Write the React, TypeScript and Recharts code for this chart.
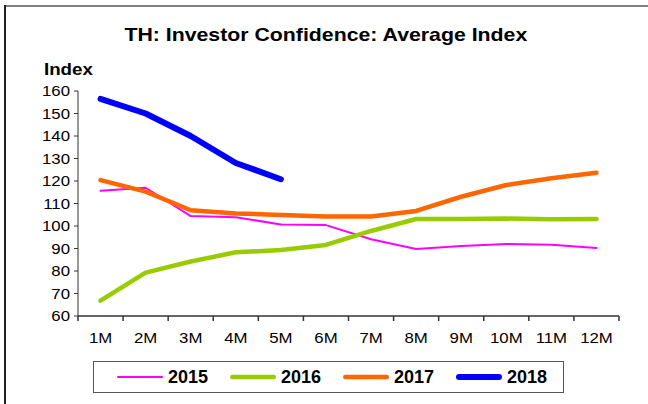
import React from "react";
import { LineChart, Line, XAxis, YAxis } from "recharts";

const months = ["1M", "2M", "3M", "4M", "5M", "6M", "7M", "8M", "9M", "10M", "11M", "12M"];
const y2015 = [115.7, 117, 104.4, 103.9, 100.7, 100.4, 94.1, 89.8, 91.1, 92, 91.7, 90.2];
const y2016 = [66.8, 79.3, 84.2, 88.3, 89.3, 91.6, 97.8, 103.1, 103.1, 103.3, 103, 103.1];
const y2017 = [120.4, 115.3, 107, 105.6, 104.9, 104.2, 104.2, 106.7, 113, 118.2, 121.2, 123.7];
const y2018 = [156.5, 150, 140, 128, 120.8];
const yTicks = [60, 70, 80, 90, 100, 110, 120, 130, 140, 150, 160];

const series = [
  { key: "2015", color: "#ff00ff", width: 2 },
  { key: "2016", color: "#99cc00", width: 4.5 },
  { key: "2017", color: "#ff6600", width: 4.5 },
  { key: "2018", color: "#0000ff", width: 6 },
];

const data = months.map((m, i) => ({
  m: i + 1,
  label: m,
  "2015": y2015[i],
  "2016": y2016[i],
  "2017": y2017[i],
  "2018": i < y2018.length ? y2018[i] : null,
}));

// tick marks sit between the months, like Excel's category axis
const boundaryTicks = [0, ...months.map((_, i) => i + 1)].map((v) => v + 0.5);

const FONT = "'Liberation Sans', Arial, sans-serif";
const AXIS = "#333";

const StretchText = ({ x, y, dy, anchor, children }: any) => (
  <g transform={`translate(${x},${y}) scale(1.12,1)`}>
    <text x={0} y={0} dy={dy} textAnchor={anchor} fill="#000" fontSize={15} fontFamily={FONT}>
      {children}
    </text>
  </g>
);

const YTick = (props: any) => (
  <StretchText x={props.x} y={props.y} dy="0.355em" anchor="end">
    {props.payload.value}
  </StretchText>
);

// label for month n is drawn half a step right of the boundary tick n - 0.5
const MonthTick = (props: any) => {
  const { x, y, payload, width } = props;
  const idx = payload.value - 0.5;
  if (idx >= months.length) return <g />;
  const half = (width || 541) / months.length / 2;
  return (
    <StretchText x={x + half} y={y} dy="0.71em" anchor="middle">
      {months[idx]}
    </StretchText>
  );
};

const LegendBox = () => (
  <div
    style={{
      position: "absolute",
      left: 93,
      top: 361,
      width: 471,
      height: 32,
      border: "1px solid #555",
      display: "flex",
      alignItems: "center",
      paddingLeft: 22,
      fontFamily: FONT,
      fontWeight: "bold",
      fontSize: 18,
      boxSizing: "border-box",
    }}
  >
    {series.map((s) => (
      <div key={s.key} style={{ display: "flex", alignItems: "center", width: 113, flexShrink: 0 }}>
        <svg width={48} height={8} style={{ marginRight: 4 }}>
          <line
            x1={s.width / 2 + 1}
            y1={4}
            x2={47 - s.width / 2}
            y2={4}
            stroke={s.color}
            strokeWidth={s.width}
            strokeLinecap="round"
          />
        </svg>
        <span>{s.key}</span>
      </div>
    ))}
  </div>
);

export default function App() {
  return (
    <div style={{ position: "absolute", left: 0, top: 0, width: 648, height: 404, background: "#fff" }}>
      <div style={{ position: "absolute", left: 4, top: 5, width: 644, height: 2, background: "#808080" }} />
      <div style={{ position: "absolute", left: 4, top: 5, width: 2, height: 399, background: "#222" }} />
      <div
        style={{
          position: "absolute",
          left: 0,
          width: 648,
          top: 25,
          textAlign: "center",
          fontFamily: FONT,
          fontWeight: "bold",
          fontSize: 19,
          lineHeight: 1,
        }}
      >
        <span style={{ display: "inline-block", transform: "scaleX(1.12)", marginLeft: 4 }}>
          TH: Investor Confidence: Average Index
        </span>
      </div>
      <div
        style={{
          position: "absolute",
          left: 44,
          top: 61,
          fontFamily: FONT,
          fontWeight: "bold",
          fontSize: 17,
          lineHeight: 1,
          transform: "scaleX(1.1)",
          transformOrigin: "left center",
        }}
      >
        Index
      </div>
      <LineChart
        width={648}
        height={404}
        data={data}
        margin={{ top: 91, right: 29, bottom: 58, left: 0 }}
        style={{ position: "absolute", left: 0, top: 0 }}
      >
        <XAxis
          type="number"
          dataKey="m"
          domain={[0.5, 12.5]}
          ticks={boundaryTicks}
          stroke={AXIS}
          axisLine={{ stroke: AXIS, strokeWidth: 1.5 }}
          tickLine={{ stroke: AXIS, strokeWidth: 1.5 }}
          tickSize={5}
          tickMargin={11}
          tick={<MonthTick />}
          height={30}
          interval={0}
        />
        <YAxis
          domain={[60, 160]}
          ticks={yTicks}
          width={78}
          tickSize={4}
          tickMargin={4}
          interval={0}
          stroke={AXIS}
          tick={<YTick />}
        />
        {series.map((s) => (
          <Line
            key={s.key}
            type="linear"
            dataKey={s.key}
            stroke={s.color}
            strokeWidth={s.width}
            strokeLinecap="round"
            strokeLinejoin="round"
            dot={false}
            activeDot={false}
            isAnimationActive={false}
            connectNulls={false}
          />
        ))}
      </LineChart>
      <LegendBox />
    </div>
  );
}
